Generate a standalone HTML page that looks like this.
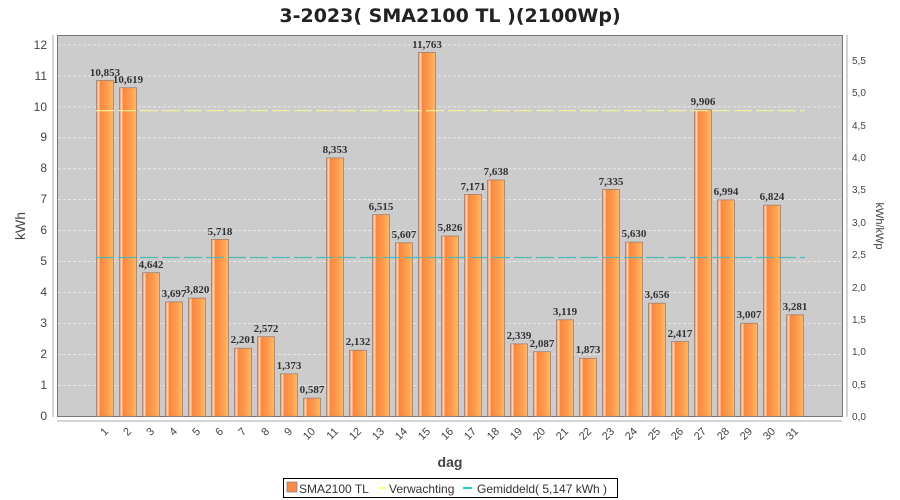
<!DOCTYPE html>
<html><head><meta charset="utf-8"><style>body{margin:0;background:#fff}svg{display:block}</style></head><body>
<svg width="900" height="500" xmlns="http://www.w3.org/2000/svg" font-family="Liberation Sans, sans-serif">
<defs>
<linearGradient id="g" x1="0" x2="1" y1="0" y2="0">
<stop offset="0" stop-color="#f97a3a"/><stop offset="0.12" stop-color="#ffe0c8"/><stop offset="0.22" stop-color="#fb8740"/><stop offset="0.6" stop-color="#fd9a4c"/><stop offset="1" stop-color="#ffb964"/>
</linearGradient>
</defs>
<text x="450" y="22" text-anchor="middle" font-size="19" font-weight="bold" fill="#222" font-family="DejaVu Sans, sans-serif">3-2023( SMA2100 TL )(2100Wp)</text>
<rect x="57.5" y="35.5" width="785" height="381" fill="#cccccc" stroke="#777" stroke-width="1"/>
<g stroke="#eee" stroke-dasharray="3,2" stroke-width="0.8">
<line x1="58" x2="842" y1="45.0" y2="45.0"/><line x1="58" x2="842" y1="76.0" y2="76.0"/><line x1="58" x2="842" y1="106.9" y2="106.9"/><line x1="58" x2="842" y1="137.8" y2="137.8"/><line x1="58" x2="842" y1="168.8" y2="168.8"/><line x1="58" x2="842" y1="199.7" y2="199.7"/><line x1="58" x2="842" y1="230.7" y2="230.7"/><line x1="58" x2="842" y1="261.6" y2="261.6"/><line x1="58" x2="842" y1="292.5" y2="292.5"/><line x1="58" x2="842" y1="323.5" y2="323.5"/><line x1="58" x2="842" y1="354.4" y2="354.4"/><line x1="58" x2="842" y1="385.4" y2="385.4"/>
</g>
<g fill="url(#g)" stroke="#a08070" stroke-width="0.8">
<rect x="96.5" y="80.5" width="17" height="335.8"/><rect x="119.5" y="87.7" width="17" height="328.6"/><rect x="142.5" y="272.7" width="17" height="143.6"/><rect x="165.5" y="301.9" width="17" height="114.4"/><rect x="188.5" y="298.1" width="17" height="118.2"/><rect x="211.5" y="239.4" width="17" height="176.9"/><rect x="234.5" y="348.2" width="17" height="68.1"/><rect x="257.5" y="336.7" width="17" height="79.6"/><rect x="280.5" y="373.8" width="17" height="42.5"/><rect x="303.5" y="398.1" width="17" height="18.2"/><rect x="326.5" y="157.9" width="17" height="258.4"/><rect x="349.5" y="350.3" width="17" height="66"/><rect x="372.5" y="214.7" width="17" height="201.6"/><rect x="395.5" y="242.8" width="17" height="173.5"/><rect x="418.5" y="52.4" width="17" height="363.9"/><rect x="441.5" y="236" width="17" height="180.3"/><rect x="464.5" y="194.4" width="17" height="221.9"/><rect x="487.5" y="180" width="17" height="236.3"/><rect x="510.5" y="343.9" width="17" height="72.4"/><rect x="533.5" y="351.7" width="17" height="64.6"/><rect x="556.5" y="319.8" width="17" height="96.5"/><rect x="579.5" y="358.3" width="17" height="58"/><rect x="602.5" y="189.4" width="17" height="226.9"/><rect x="625.5" y="242.1" width="17" height="174.2"/><rect x="648.5" y="303.2" width="17" height="113.1"/><rect x="671.5" y="341.5" width="17" height="74.8"/><rect x="694.5" y="109.8" width="17" height="306.5"/><rect x="717.5" y="199.9" width="17" height="216.4"/><rect x="740.5" y="323.3" width="17" height="93"/><rect x="763.5" y="205.2" width="17" height="211.1"/><rect x="786.5" y="314.8" width="17" height="101.5"/>
</g>
<line x1="96" x2="805" y1="110.7" y2="110.7" stroke="#f4f49a" stroke-width="1.2" stroke-dasharray="18,4"/>
<line x1="96" x2="805" y1="257.5" y2="257.5" stroke="#50b8b8" stroke-width="1.3" stroke-dasharray="18,4"/>
<g font-family="Liberation Serif, serif" font-weight="bold" font-size="11" fill="#333" text-anchor="middle">
<text x="105" y="76">10,853</text><text x="128" y="83">10,619</text><text x="151" y="268">4,642</text><text x="174" y="297">3,697</text><text x="197" y="293">3,820</text><text x="220" y="235">5,718</text><text x="243" y="343">2,201</text><text x="266" y="332">2,572</text><text x="289" y="369">1,373</text><text x="312" y="393">0,587</text><text x="335" y="153">8,353</text><text x="358" y="345">2,132</text><text x="381" y="210">6,515</text><text x="404" y="238">5,607</text><text x="427" y="48">11,763</text><text x="450" y="231">5,826</text><text x="473" y="190">7,171</text><text x="496" y="175">7,638</text><text x="519" y="339">2,339</text><text x="542" y="347">2,087</text><text x="565" y="315">3,119</text><text x="588" y="353">1,873</text><text x="611" y="185">7,335</text><text x="634" y="237">5,630</text><text x="657" y="298">3,656</text><text x="680" y="337">2,417</text><text x="703" y="105">9,906</text><text x="726" y="195">6,994</text><text x="749" y="318">3,007</text><text x="772" y="200">6,824</text><text x="795" y="310">3,281</text>
</g>
<g stroke="#aaa" stroke-width="1">
<line x1="53" x2="53" y1="35" y2="417"/><line x1="57" x2="842" y1="421" y2="421"/><line x1="847" x2="847" y1="35" y2="417"/>
</g>
<g font-size="12" fill="#444" text-anchor="end">
<text x="47" y="420">0</text><text x="47" y="389">1</text><text x="47" y="358">2</text><text x="47" y="327">3</text><text x="47" y="296">4</text><text x="47" y="265">5</text><text x="47" y="234">6</text><text x="47" y="203">7</text><text x="47" y="172">8</text><text x="47" y="141">9</text><text x="47" y="111">10</text><text x="47" y="80">11</text><text x="47" y="49">12</text>
</g>
<g font-size="10" fill="#444">
<text x="852" y="420">0,0</text><text x="852" y="388">0,5</text><text x="852" y="355">1,0</text><text x="852" y="323">1,5</text><text x="852" y="291">2,0</text><text x="852" y="258">2,5</text><text x="852" y="226">3,0</text><text x="852" y="193">3,5</text><text x="852" y="161">4,0</text><text x="852" y="129">4,5</text><text x="852" y="96">5,0</text><text x="852" y="64">5,5</text>
</g>
<g font-size="11" fill="#444" text-anchor="end">
<text transform="translate(109,432) rotate(-45)">1</text><text transform="translate(132,432) rotate(-45)">2</text><text transform="translate(155,432) rotate(-45)">3</text><text transform="translate(178,432) rotate(-45)">4</text><text transform="translate(201,432) rotate(-45)">5</text><text transform="translate(224,432) rotate(-45)">6</text><text transform="translate(247,432) rotate(-45)">7</text><text transform="translate(270,432) rotate(-45)">8</text><text transform="translate(293,432) rotate(-45)">9</text><text transform="translate(316,432) rotate(-45)">10</text><text transform="translate(339,432) rotate(-45)">11</text><text transform="translate(362,432) rotate(-45)">12</text><text transform="translate(385,432) rotate(-45)">13</text><text transform="translate(408,432) rotate(-45)">14</text><text transform="translate(431,432) rotate(-45)">15</text><text transform="translate(454,432) rotate(-45)">16</text><text transform="translate(477,432) rotate(-45)">17</text><text transform="translate(500,432) rotate(-45)">18</text><text transform="translate(523,432) rotate(-45)">19</text><text transform="translate(546,432) rotate(-45)">20</text><text transform="translate(569,432) rotate(-45)">21</text><text transform="translate(592,432) rotate(-45)">22</text><text transform="translate(615,432) rotate(-45)">23</text><text transform="translate(638,432) rotate(-45)">24</text><text transform="translate(661,432) rotate(-45)">25</text><text transform="translate(684,432) rotate(-45)">26</text><text transform="translate(707,432) rotate(-45)">27</text><text transform="translate(730,432) rotate(-45)">28</text><text transform="translate(753,432) rotate(-45)">29</text><text transform="translate(776,432) rotate(-45)">30</text><text transform="translate(799,432) rotate(-45)">31</text>
</g>
<text x="450" y="467" text-anchor="middle" font-size="14" font-weight="bold" fill="#444">dag</text>
<text transform="translate(25,226) rotate(-90)" text-anchor="middle" font-size="14" fill="#444">kWh</text>
<text transform="translate(876,226) rotate(90)" text-anchor="middle" font-size="11" fill="#444">kWh/kWp</text>
<rect x="283.5" y="478.5" width="334" height="19" fill="#fff" stroke="#000"/>
<rect x="287" y="482" width="10" height="10" fill="#f98a48" stroke="#888" stroke-width="0.8"/>
<line x1="378" x2="386" y1="488" y2="488" stroke="#ffff88" stroke-width="2"/>
<line x1="463" x2="472" y1="488" y2="488" stroke="#20d0d0" stroke-width="2"/>
<g font-size="12" fill="#333"><text x="299" y="493">SMA2100 TL</text><text x="389" y="493">Verwachting</text><text x="477" y="493">Gemiddeld( 5,147 kWh )</text></g>
</svg>
</body></html>
